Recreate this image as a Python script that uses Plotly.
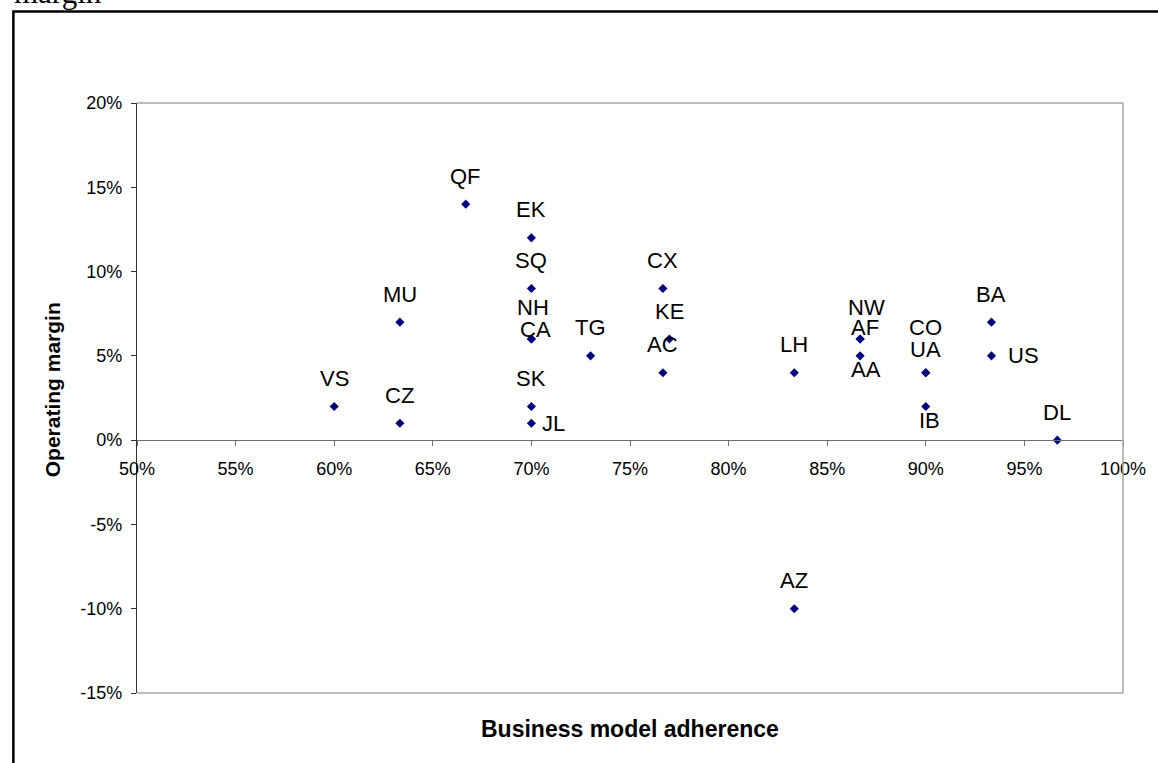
import plotly.graph_objects as go

# ---- data ----
codes = ["VS", "CZ", "MU", "QF", "EK", "SQ", "NH", "CA", "SK", "JL", "TG", "CX", "KE",
         "AC", "LH", "AZ", "NW", "AF", "AA", "CO", "UA", "IB", "BA", "US", "DL"]
adherence = [0.60, 0.6333, 0.6333, 0.6667, 0.70, 0.70, 0.70, 0.70, 0.70, 0.70, 0.73, 0.7667, 0.77,
             0.7667, 0.8333, 0.8333, 0.8667, 0.8667, 0.8667, 0.90, 0.90, 0.90, 0.9333, 0.9333, 0.9667]
op_margin = [0.02, 0.01, 0.07, 0.14, 0.12, 0.09, 0.06, 0.06, 0.02, 0.01, 0.05, 0.09, 0.06,
             0.04, 0.04, -0.10, 0.06, 0.06, 0.05, 0.04, 0.04, 0.02, 0.07, 0.05, 0.00]

x_tickvals = [0.50, 0.55, 0.60, 0.65, 0.70, 0.75, 0.80, 0.85, 0.90, 0.95, 1.00]
x_ticktext = ["50%", "55%", "60%", "65%", "70%", "75%", "80%", "85%", "90%", "95%", "100%"]
y_tickvals = [-0.15, -0.10, -0.05, 0.0, 0.05, 0.10, 0.15, 0.20]
y_ticktext = ["-15%", "-10%", "-5%", "0%", "5%", "10%", "15%", "20%"]

# label placement (pixel offsets from marker), default is above
label_offsets = {"NH": (2, 32), "CA": (4, 10), "JL": (22, 0), "NW": (6, 32), "AF": (5, 12),
                 "AA": (6, -14), "CO": (0, 45), "UA": (0, 23), "IB": (4, -14), "US": (32, 0)}
default_offset = (0, 28)

FONT = "Liberation Sans, Arial, sans-serif"

fig = go.Figure()
fig.add_trace(go.Scatter(
    x=adherence, y=op_margin, mode="markers",
    marker=dict(symbol="diamond", size=7, color="#000080", line=dict(width=0)),
    showlegend=False, hoverinfo="skip"))

annotations = []
for c, xv, yv in zip(codes, adherence, op_margin):
    dx, dy = label_offsets.get(c, default_offset)
    annotations.append(dict(x=xv, y=yv, xref="x", yref="y", text=c, showarrow=False,
                            xanchor="center", yanchor="middle", xshift=dx, yshift=dy,
                            font=dict(family=FONT, size=22, color="black")))

# plot-area geometry in pixels
L, R, T, B = 137, 1126, 103, 693
W, H = 1158, 763
pw, ph = R - L, B - T

def px(xp):
    return (xp - L) / pw

def py(yp):
    return (B - yp) / ph

annotations.append(dict(x=px(52), y=py(390), xref="paper", yref="paper", text="<b>Operating margin</b>",
                        textangle=-90, showarrow=False, xanchor="center", yanchor="middle",
                        font=dict(family=FONT, size=21, color="black")))
annotations.append(dict(x=px(631), y=py(729), xref="paper", yref="paper", text="<b>Business model adherence</b>",
                        showarrow=False, xanchor="center", yanchor="middle",
                        font=dict(family=FONT, size=23, color="black")))
annotations.append(dict(x=px(12), y=py(12), xref="paper", yref="paper", text="margin",
                        showarrow=False, xanchor="left", yanchor="bottom",
                        font=dict(family="Liberation Serif, Times New Roman, serif", size=31, color="black")))

shapes = [
    # outer frame
    dict(type="rect", xref="paper", yref="paper", x0=px(13), x1=px(1175), y0=py(790), y1=py(11.5),
         line=dict(color="black", width=2.5), fillcolor="rgba(0,0,0,0)", layer="above"),
    # plot area border (top, right, bottom)
    dict(type="line", xref="paper", yref="paper", x0=0, x1=1, y0=1, y1=1,
         line=dict(color="#a6a6a6", width=1.5)),
    dict(type="line", xref="paper", yref="paper", x0=1, x1=1, y0=0, y1=1,
         line=dict(color="#a6a6a6", width=1.5)),
    dict(type="line", xref="paper", yref="paper", x0=0, x1=1, y0=0, y1=0,
         line=dict(color="#a6a6a6", width=1.5)),
]

fig.update_layout(
    width=W, height=H, autosize=False,
    margin=dict(l=L, r=W - R, t=T, b=H - B, pad=0),
    paper_bgcolor="white", plot_bgcolor="white",
    annotations=annotations, shapes=shapes,
    xaxis=dict(range=[0.5, 1.0], tickvals=x_tickvals, ticktext=x_ticktext,
               anchor="free", position=py(440), showline=True, linecolor="#6e6e6e", linewidth=1.3,
               ticks="outside", ticklen=5, tickcolor="#6e6e6e", tickwidth=1.3,
               showgrid=False, zeroline=False, ticklabelstandoff=7,
               tickfont=dict(family=FONT, size=18, color="black")),
    yaxis=dict(range=[-0.15, 0.20], tickvals=y_tickvals, ticktext=y_ticktext,
               showline=True, linecolor="#333333", linewidth=1.3,
               ticks="outside", ticklen=5, tickcolor="#333333", tickwidth=1.3,
               showgrid=False, zeroline=False, ticklabelstandoff=5,
               tickfont=dict(family=FONT, size=18, color="black")),
)

fig.write_html("out.html", config={"displayModeBar": False},
               post_script="document.body.style.margin='0';")
